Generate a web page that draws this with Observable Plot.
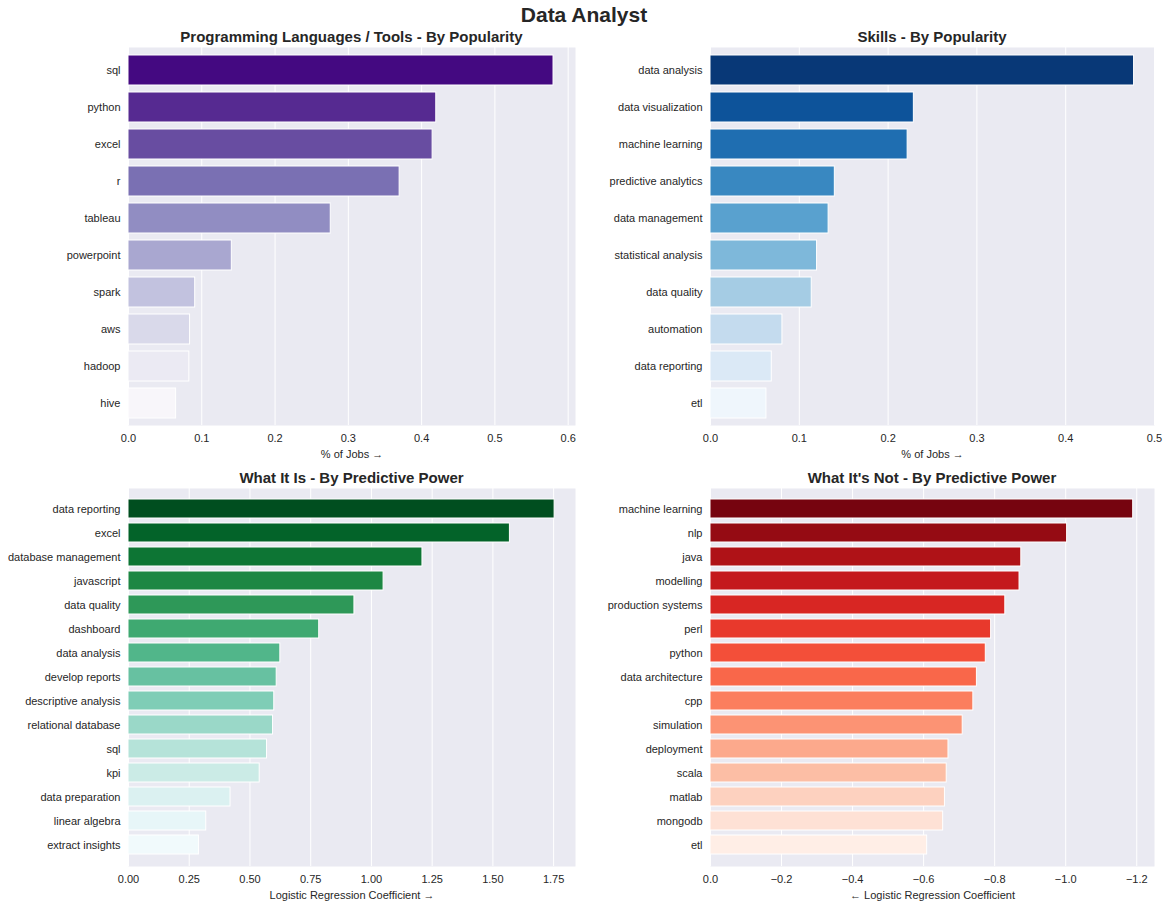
<!DOCTYPE html>
<html><head><meta charset="utf-8">
<script src="https://cdn.jsdelivr.net/npm/d3@7"></script>
<script src="https://cdn.jsdelivr.net/npm/@observablehq/plot@0.6"></script>
<style>
body{margin:0;background:#fff;font-family:"Liberation Sans",Arial,sans-serif;}
#wrap{position:relative;width:1168px;height:907px;}
.t{position:absolute;font-weight:bold;color:#262626;text-align:center;}
.p{position:absolute;}
</style></head><body><div id="wrap">
<div class="t" style="left:0;top:3px;width:1168px;font-size:21px">Data Analyst</div>
<div class="t" style="left:128px;top:28px;width:447px;font-size:15px">Programming Languages / Tools - By Popularity</div>
<div class="t" style="left:710px;top:28px;width:444px;font-size:15px">Skills - By Popularity</div>
<div class="t" style="left:128px;top:469px;width:447px;font-size:15px">What It Is - By Predictive Power</div>
<div class="t" style="left:710px;top:469px;width:444px;font-size:15px">What It's Not - By Predictive Power</div>
<div class="p" id="p1" style="left:0;top:47px"></div>
<div class="p" id="p2" style="left:584px;top:47px"></div>
<div class="p" id="p3" style="left:0;top:488px"></div>
<div class="p" id="p4" style="left:584px;top:488px"></div>
</div>
<script>
const toolNames=["sql","python","excel","r","tableau","powerpoint","spark","aws","hadoop","hive"];
const toolValues=[0.58,0.42,0.415,0.37,0.276,0.141,0.091,0.084,0.083,0.065];
const skillNames=["data analysis","data visualization","machine learning","predictive analytics","data management","statistical analysis","data quality","automation","data reporting","etl"];
const skillValues=[0.477,0.229,0.222,0.14,0.133,0.12,0.114,0.081,0.069,0.063];
const isNames=["data reporting","excel","database management","javascript","data quality","dashboard","data analysis","develop reports","descriptive analysis","relational database","sql","kpi","data preparation","linear algebra","extract insights"];
const isValues=[1.754,1.57,1.21,1.05,0.93,0.785,0.625,0.61,0.60,0.595,0.57,0.54,0.42,0.32,0.29];
const notNames=["machine learning","nlp","java","modelling","production systems","perl","python","data architecture","cpp","simulation","deployment","scala","matlab","mongodb","etl"];
const notValues=[-1.19,-1.004,-0.875,-0.87,-0.83,-0.79,-0.775,-0.75,-0.74,-0.71,-0.67,-0.665,-0.66,-0.655,-0.61];

function panel(id,names,values,interp,domain,ticks,fmt,label,mr){
  const n=names.length;
  const data=names.map((k,i)=>({k,v:values[i],c:interp(0.97-0.93*i/(n-1))}));
  const pl=Plot.plot({
    width:584,height:418,marginLeft:id==="p1"||id==="p3"?128:126,marginRight:mr,marginTop:0,marginBottom:40,
    style:{fontFamily:"Liberation Sans, Arial, sans-serif",fontSize:"11px",color:"#262626",background:"transparent"},
    x:{domain,ticks,tickFormat:fmt,tickSize:0,label,labelAnchor:"center",labelOffset:32},
    y:{domain:names,padding:0.2,tickSize:0,label:null,tickPadding:8},
    marks:[
      Plot.frame({fill:"#eaeaf2",stroke:null}),
      Plot.gridX(ticks,{stroke:"white",strokeOpacity:1,strokeWidth:1}),
      Plot.barX(data,{x1:0,x2:"v",y:"k",fill:"c",stroke:"white",strokeWidth:1})
    ]});
  pl.querySelectorAll("text").forEach(t=>t.style.fontSize="11px");
  document.getElementById(id).appendChild(pl);
}
panel("p1",toolNames,toolValues,d3.interpolatePurples,[0,0.61],[0,0.1,0.2,0.3,0.4,0.5,0.6],d3.format(".1f"),"% of Jobs",9);
panel("p2",skillNames,skillValues,d3.interpolateBlues,[0,0.5],[0,0.1,0.2,0.3,0.4,0.5],d3.format(".1f"),"% of Jobs",14);
panel("p3",isNames,isValues,d3.interpolateBuGn,[0,1.84],[0,0.25,0.5,0.75,1,1.25,1.5,1.75],d3.format(".2f"),"Logistic Regression Coefficient",9);
panel("p4",notNames,notValues,d3.interpolateReds,[0,-1.25],[0,-0.2,-0.4,-0.6,-0.8,-1,-1.2],d3.format(".1f"),"Logistic Regression Coefficient",14);
</script></body></html>
